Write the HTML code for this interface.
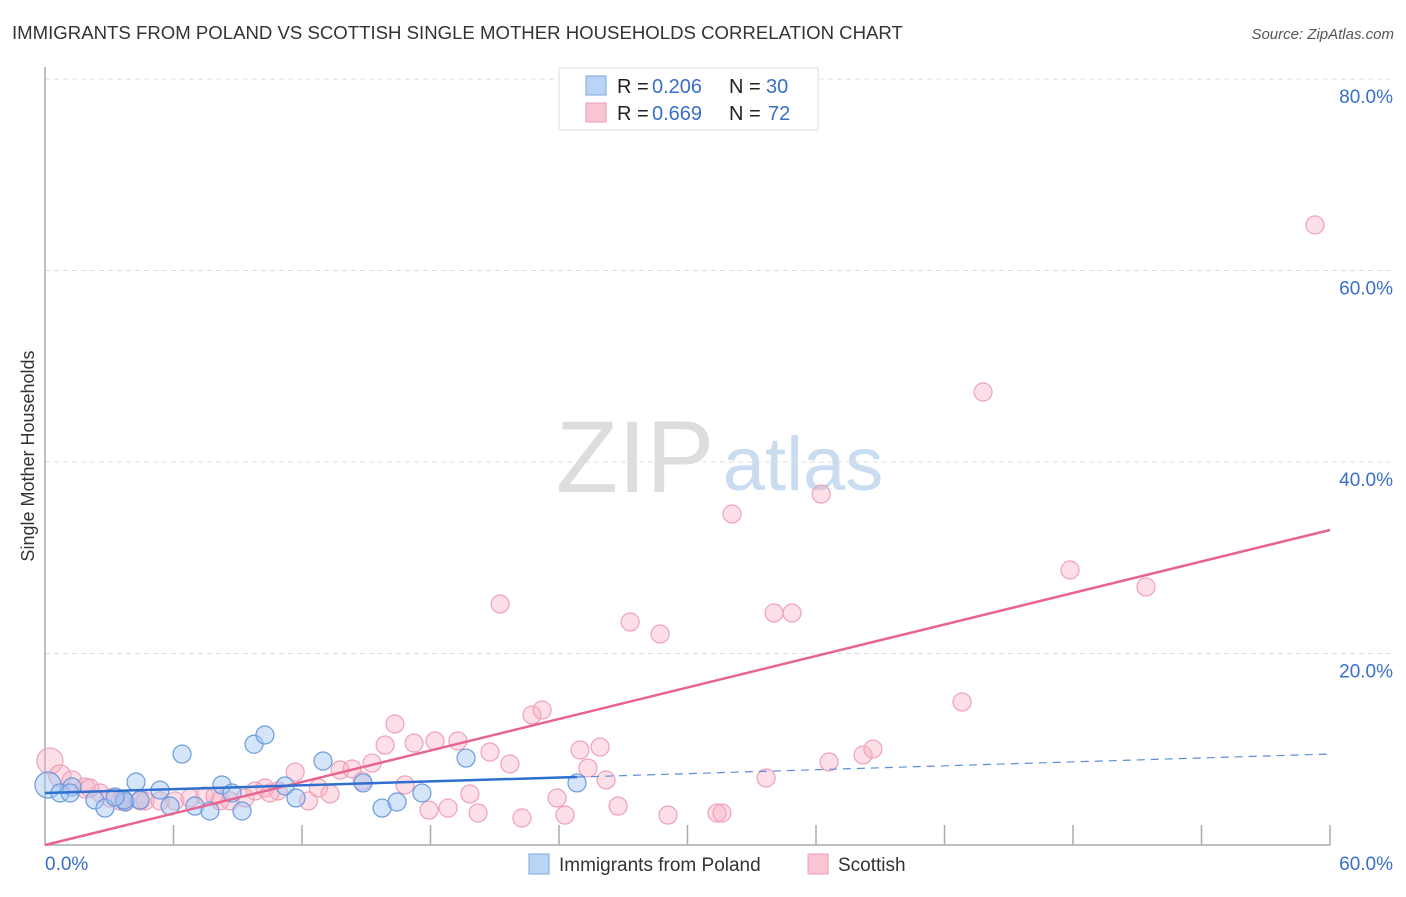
<!DOCTYPE html>
<html><head><meta charset="utf-8">
<style>
body{margin:0;background:#fff;font-family:"Liberation Sans",sans-serif;}
svg text{font-family:"Liberation Sans",sans-serif;}
</style></head>
<body>
<svg id="chart" width="1406" height="892" xmlns="http://www.w3.org/2000/svg">
<text x="12" y="39" font-size="18.6" fill="#333">IMMIGRANTS FROM POLAND VS SCOTTISH SINGLE MOTHER HOUSEHOLDS CORRELATION CHART</text>
<text x="1394" y="39" font-size="15" fill="#555" font-style="italic" text-anchor="end">Source: ZipAtlas.com</text>
<text x="34" y="456" font-size="18" fill="#333" text-anchor="middle" transform="rotate(-90 34 456)">Single Mother Households</text>
<g>
<text x="635" y="492" font-size="102" fill="#ddd" font-family="Liberation Serif" text-anchor="middle">ZIP</text>
<text x="803" y="490" font-size="76" fill="#c9dcf0" text-anchor="middle">atlas</text>
</g>
<g id="grid"></g>
<g id="marks"></g>
<g>
<rect x="559" y="68" width="259" height="62" fill="#fff" stroke="#ddd"/>
<rect x="586" y="76" width="20" height="19" fill="#b9d4f5" stroke="#7aa7e0"/>
<rect x="586" y="103" width="20" height="19" fill="#fbc6d4" stroke="#ee9ab2"/>
<text x="617" y="93" font-size="20" fill="#222">R =</text>
<text x="652" y="93" font-size="20" fill="#3a6fc9">0.206</text>
<text x="729" y="93" font-size="20" fill="#222">N =</text>
<text x="766" y="93" font-size="20" fill="#3a6fc9">30</text>
<text x="617" y="120" font-size="20" fill="#222">R =</text>
<text x="652" y="120" font-size="20" fill="#3a6fc9">0.669</text>
<text x="729" y="120" font-size="20" fill="#222">N =</text>
<text x="768" y="120" font-size="20" fill="#3a6fc9">72</text>
</g>
<g>
<rect x="529" y="854" width="20" height="20" fill="#b9d4f5" stroke="#7aa7e0"/>
<text x="559" y="871" font-size="19" fill="#333">Immigrants from Poland</text>
<rect x="808" y="854" width="20" height="20" fill="#fbc6d4" stroke="#ee9ab2"/>
<text x="838" y="871" font-size="19" fill="#333">Scottish</text>
</g>
</svg>
<script>
const yTicks=[20,40,60,80];
const yTickLabels=["20.0%","40.0%","60.0%","80.0%"];
const xTicks=[0,6,12,18,24,30,36,42,48,54,60];
const xEndLabels=["0.0%","60.0%"];
const polandX=[0.14,0.70,1.26,2.33,2.80,3.74,4.25,5.37,5.84,6.40,7.00,7.70,8.26,8.73,9.20,9.76,10.27,11.21,11.72,12.98,14.85,15.74,16.44,17.60,19.66,24.84,3.69,3.27,1.17,4.44];
const polandY=[6.27,5.43,6.06,4.70,3.86,4.49,6.58,5.74,4.07,9.50,4.07,3.55,6.27,5.43,3.55,10.52,11.49,6.16,4.91,8.77,6.48,3.86,4.49,5.43,9.08,6.48,4.70,5.01,5.43,4.70];
const polandR=[13,9,9,9,9,9,9,9,9,9,9,9,9,9,9,9,9,9,9,9,9,9,9,9,9,9,9,9,9,9];
const scotX=[0.23,0.70,1.26,1.87,2.57,3.04,3.74,4.67,5.37,6.07,6.77,7.47,7.94,8.64,9.34,9.81,10.27,10.88,11.68,12.30,12.77,13.31,13.78,14.34,14.81,15.27,15.88,16.34,16.81,17.23,17.93,18.21,18.82,19.28,19.84,20.22,20.78,21.25,21.71,22.27,22.74,23.21,23.91,24.28,24.98,25.35,25.92,26.20,26.76,27.32,28.72,29.09,31.38,31.61,32.08,33.67,34.04,34.88,36.24,36.61,38.20,38.66,42.82,43.80,47.86,51.41,59.30,2.10,3.50,4.44,8.17,10.50];
const scotY=[8.77,7.21,6.69,5.95,5.43,4.91,4.60,4.60,4.60,4.60,4.91,5.12,5.12,4.60,4.91,5.64,5.95,5.64,7.62,4.60,5.95,5.33,7.83,7.94,6.69,8.56,10.44,12.64,6.27,10.65,3.65,10.86,3.86,10.86,5.33,3.34,9.71,25.17,8.46,2.82,13.58,14.10,4.91,3.13,9.92,8.04,10.23,6.79,4.07,23.29,22.04,3.13,3.34,3.34,34.57,7.00,24.23,24.23,36.65,8.67,9.40,10.02,14.94,47.31,28.72,26.95,64.75,5.95,4.60,4.60,4.60,5.43];
const scotR=[13,11,10,10,9,9,9,9,9,9,9,9,9,9,9,9,9,9,9,9,9,9,9,9,9,9,9,9,9,9,9,9,9,9,9,9,9,9,9,9,9,9,9,9,9,9,9,9,9,9,9,9,9,9,9,9,9,9,9,9,9,9,9,9,9,9,9,9,9,9,9,9];
const polandTrend=[[0,5.43],[24.84,7.10],[60,9.5]];
const scotTrend=[[0,0],[60,32.9]];
const X=v=>45+v/60*1285, Y=v=>845-v/80*766;
const NS="http://www.w3.org/2000/svg";
function mk(t,a,p){const e=document.createElementNS(NS,t);for(const k in a)e.setAttribute(k,a[k]);p.appendChild(e);return e;}
const g=document.getElementById('grid'), m=document.getElementById('marks');
yTicks.forEach((t,i)=>{
 const l=mk('line',{x1:45,x2:1394,y1:Y(t),y2:Y(t),stroke:'#ddd','stroke-dasharray':'5,4'},g);
 
 
 const tx=mk('text',{x:1393,y:Y(t)+24,'font-size':19,fill:'#3a6fc9','text-anchor':'end'},g);
 tx.textContent=yTickLabels[i];
 
 
});
const ax=mk('path',{d:'M45 67 V845 H1330',fill:'none',stroke:'#aaa','stroke-width':1.5},g);


xTicks.forEach(t=>{if(t===0)return;const l=mk('line',{x1:X(t),x2:X(t),y1:825,y2:845,stroke:'#aaa','stroke-width':1.5},g);
 
 });
[[0,'start',45],[1,'end',1393]].forEach(([i,a,x])=>{const tx=mk('text',{x:x,y:870,'font-size':19,fill:'#3a6fc9','text-anchor':a},g);tx.textContent=xEndLabels[i];
 
 });
scotX.forEach((v,i)=>{const c=mk('circle',{cx:X(v),cy:Y(scotY[i]),r:scotR[i],fill:'rgba(248,176,196,0.4)',stroke:'#f0a0b8','stroke-width':1.2},m);
 
 });
polandX.forEach((v,i)=>{const c=mk('circle',{cx:X(v),cy:Y(polandY[i]),r:polandR[i],fill:'rgba(160,198,242,0.45)',stroke:'#6a9ade','stroke-width':1.2},m);
 
 });
let l=mk('line',{x1:X(scotTrend[0][0]),y1:Y(scotTrend[0][1]),x2:X(scotTrend[1][0]),y2:Y(scotTrend[1][1]),stroke:'#e8648e','stroke-width':2.5},m);


l=mk('line',{x1:X(polandTrend[0][0]),y1:Y(polandTrend[0][1]),x2:X(polandTrend[1][0]),y2:Y(polandTrend[1][1]),stroke:'#2f6fd0','stroke-width':2.5},m);


l=mk('line',{x1:X(polandTrend[1][0]),y1:Y(polandTrend[1][1]),x2:X(polandTrend[2][0]),y2:Y(polandTrend[2][1]),stroke:'#5a8fd8','stroke-width':1.2,'stroke-dasharray':'8,6'},m);


</script>
</body></html>
